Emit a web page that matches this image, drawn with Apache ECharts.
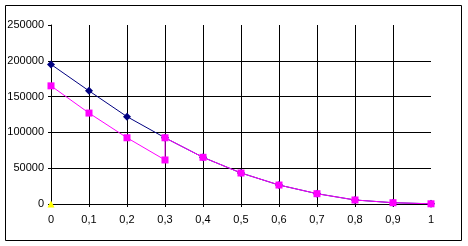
<!DOCTYPE html>
<html><head><meta charset="utf-8">
<script src="https://cdn.jsdelivr.net/npm/echarts@6/dist/echarts.min.js"></script>
<style>html,body{margin:0;padding:0;background:#fff}#c{width:468px;height:246px}</style>
</head><body><div id="c"></div>
<script>
// Data
const xTicks = [0, 0.1, 0.2, 0.3, 0.4, 0.5, 0.6, 0.7, 0.8, 0.9, 1];
const yTicks = [0, 50000, 100000, 150000, 200000, 250000];
const navyX = [0, 0.1, 0.2, 0.3, 0.4, 0.5, 0.6, 0.7, 0.8, 0.9, 1];
const navyY = [195000, 158000, 122000, 92500, 65200, 43300, 26500, 14400, 5600, 1800, 300];
const magentaX = [0, 0.1, 0.2, 0.3, 0.3, 0.4, 0.5, 0.6, 0.7, 0.8, 0.9, 1];
const magentaY = [165000, 127000, 92500, 61500, 92500, 65200, 43300, 26500, 14400, 5600, 1800, 300];
const yellowX = [0];
const yellowY = [0];

const zip = (xs, ys) => xs.map((x, i) => [x, ys[i]]);
const font = 'Liberation Sans, Arial, sans-serif';
const gridColorsX = xTicks.map((v, i) => i === xTicks.length - 1 ? 'rgba(0,0,0,0)' : '#000');
const gridColorsY = yTicks.map((v, i) => i === yTicks.length - 1 ? 'rgba(0,0,0,0)' : '#000');

const chart = echarts.init(document.getElementById('c'), null, {renderer: 'canvas'});
chart.setOption({
  animation: false,
  backgroundColor: '#fff',
  grid: {left: 51, right: 37, top: 25, bottom: 42, containLabel: false},
  graphic: [{
    type: 'rect', shape: {x: 5.5, y: 5.5, width: 456, height: 235},
    style: {fill: 'none', stroke: '#000', lineWidth: 1}, z: -1, silent: true
  }],
  xAxis: {
    type: 'value', min: 0, max: 1, interval: 0.1,
    axisLine: {show: true, onZero: false, lineStyle: {color: '#000', width: 1}},
    axisTick: {show: true, length: 3, inside: false, lineStyle: {color: '#000'}},
    axisLabel: {
      color: '#000', fontFamily: font, fontSize: 11, margin: 10,
      formatter: v => String(+(+v).toFixed(1)).replace('.', ',')
    },
    splitLine: {show: true, lineStyle: {color: gridColorsX, width: 1}}
  },
  yAxis: {
    type: 'value', min: 0, max: 250000, interval: 50000,
    axisLine: {show: true, lineStyle: {color: '#000', width: 1}},
    axisTick: {show: true, length: 3, inside: false, lineStyle: {color: '#000'}},
    axisLabel: {color: '#000', fontFamily: font, fontSize: 11, margin: 7,
      formatter: v => String(Math.round(v))},
    splitLine: {show: true, lineStyle: {color: gridColorsY, width: 1}}
  },
  series: [
    {
      type: 'line', data: zip(navyX, navyY), symbol: 'diamond', symbolSize: 8,
      lineStyle: {color: '#000080', width: 1}, itemStyle: {color: '#000080'}, z: 2
    },
    {
      type: 'line', data: zip(magentaX, magentaY), symbol: 'rect', symbolSize: 7,
      lineStyle: {color: '#FF00FF', width: 1}, itemStyle: {color: '#FF00FF'}, z: 3
    },
    {
      type: 'line', data: zip(yellowX, yellowY), symbol: 'triangle', symbolSize: 7,
      lineStyle: {color: '#FFFF00', width: 1}, itemStyle: {color: '#FFFF00'}, z: 4
    }
  ]
});
</script>
</body></html>
